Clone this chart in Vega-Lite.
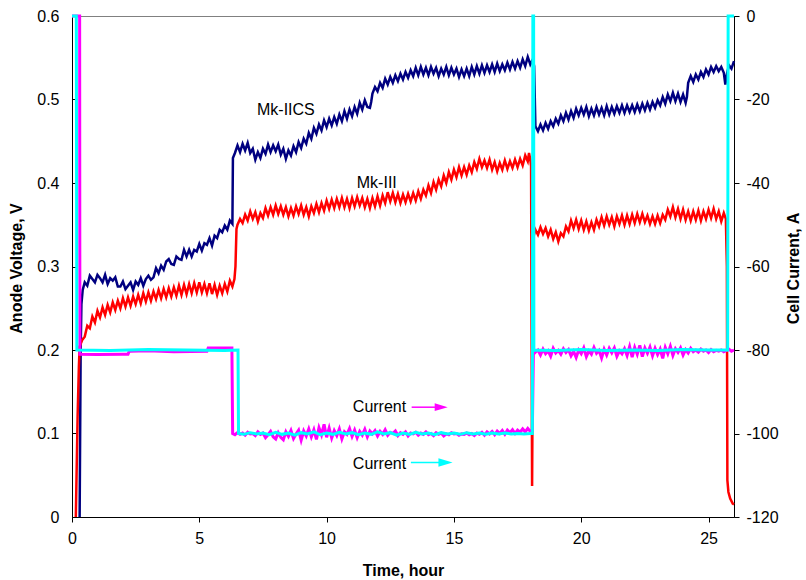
{
"$schema":"https://vega.github.io/schema/vega-lite/v6.json",
"width":662,"height":501,
"autosize":{"type":"none"},
"padding":{"left":72,"top":16,"right":72,"bottom":63},
"config":{
"font":"Liberation Sans",
"view":{"stroke":"#808080","strokeWidth":1},
"axis":{"grid":false,"domainColor":"#000","tickColor":"#000","labelColor":"#000","titleColor":"#000","labelFontSize":16,"titleFontSize":16,"titleFontWeight":"bold","labelFont":"Liberation Sans","titleFont":"Liberation Sans","domainWidth":1,"tickWidth":1}
},
"datasets":{
"navy":[{"t":0.3,"v":0},{"t":0.34,"v":0.2},{"t":0.37,"v":0.255},{"t":0.42,"v":0.272},
{"t":0.5,"v":0.281},{"t":0.6,"v":0.277},{"t":0.7,"v":0.289},{"t":0.8,"v":0.285},{"t":0.9,"v":0.281},{"t":1.0,"v":0.29},{"t":1.1,"v":0.286},{"t":1.2,"v":0.281},{"t":1.3,"v":0.29},{"t":1.4,"v":0.279},{"t":1.5,"v":0.286},{"t":1.6,"v":0.283},{"t":1.7,"v":0.287},{"t":1.8,"v":0.276},{"t":1.9,"v":0.276},{"t":2.0,"v":0.282},{"t":2.1,"v":0.273},{"t":2.2,"v":0.277},{"t":2.3,"v":0.281},{"t":2.4,"v":0.272},{"t":2.5,"v":0.282},{"t":2.6,"v":0.278},{"t":2.7,"v":0.286},{"t":2.8,"v":0.277},{"t":2.9,"v":0.285},{"t":3.0,"v":0.289},{"t":3.1,"v":0.284},{"t":3.2,"v":0.287},{"t":3.3,"v":0.298},{"t":3.4,"v":0.292},{"t":3.5,"v":0.301},{"t":3.6,"v":0.296},{"t":3.7,"v":0.306},{"t":3.8,"v":0.309},{"t":3.9,"v":0.303},{"t":4.0,"v":0.302},{"t":4.1,"v":0.312},{"t":4.2,"v":0.309},{"t":4.3,"v":0.308},{"t":4.4,"v":0.32},{"t":4.5,"v":0.312},{"t":4.6,"v":0.32},{"t":4.7,"v":0.312},{"t":4.8,"v":0.32},{"t":4.9,"v":0.318},{"t":5.0,"v":0.327},{"t":5.1,"v":0.319},{"t":5.2,"v":0.328},{"t":5.3,"v":0.326},{"t":5.4,"v":0.334},{"t":5.5,"v":0.325},{"t":5.6,"v":0.337},{"t":5.7,"v":0.334},{"t":5.8,"v":0.344},{"t":5.9,"v":0.341},{"t":6.0,"v":0.349},{"t":6.1,"v":0.344},{"t":6.2,"v":0.355},{"t":6.3,"v":0.351},{"t":6.32,"v":0.43},
{"t":6.4,"v":0.436},{"t":6.5,"v":0.445},{"t":6.6,"v":0.437},{"t":6.7,"v":0.447},{"t":6.8,"v":0.439},{"t":6.9,"v":0.448},{"t":7.0,"v":0.436},{"t":7.1,"v":0.441},{"t":7.2,"v":0.428},{"t":7.3,"v":0.437},{"t":7.4,"v":0.43},{"t":7.5,"v":0.441},{"t":7.6,"v":0.435},{"t":7.7,"v":0.446},{"t":7.8,"v":0.437},{"t":7.9,"v":0.445},{"t":8.0,"v":0.438},{"t":8.1,"v":0.446},{"t":8.2,"v":0.434},{"t":8.3,"v":0.441},{"t":8.4,"v":0.429},{"t":8.5,"v":0.439},{"t":8.6,"v":0.433},{"t":8.7,"v":0.444},{"t":8.8,"v":0.437},{"t":8.9,"v":0.449},{"t":9.0,"v":0.442},{"t":9.1,"v":0.453},{"t":9.2,"v":0.447},{"t":9.3,"v":0.46},{"t":9.4,"v":0.453},{"t":9.5,"v":0.466},{"t":9.6,"v":0.459},{"t":9.7,"v":0.47},{"t":9.8,"v":0.463},{"t":9.9,"v":0.475},{"t":10.0,"v":0.467},{"t":10.1,"v":0.477},{"t":10.2,"v":0.469},{"t":10.3,"v":0.479},{"t":10.4,"v":0.471},{"t":10.5,"v":0.482},{"t":10.6,"v":0.474},{"t":10.7,"v":0.486},{"t":10.8,"v":0.477},{"t":10.9,"v":0.488},{"t":11.0,"v":0.48},{"t":11.1,"v":0.491},{"t":11.2,"v":0.483},{"t":11.3,"v":0.496},{"t":11.4,"v":0.488},{"t":11.5,"v":0.499},{"t":11.6,"v":0.491},{"t":11.7,"v":0.49},{"t":11.75,"v":0.497},{"t":11.8,"v":0.507},{"t":11.9,"v":0.515},{"t":12.0,"v":0.51},{"t":12.1,"v":0.52},{"t":12.2,"v":0.514},{"t":12.3,"v":0.525},{"t":12.4,"v":0.518},{"t":12.5,"v":0.527},{"t":12.6,"v":0.52},{"t":12.7,"v":0.529},{"t":12.8,"v":0.522},{"t":12.9,"v":0.531},{"t":13.0,"v":0.524},{"t":13.1,"v":0.533},{"t":13.2,"v":0.526},{"t":13.3,"v":0.535},{"t":13.4,"v":0.528},{"t":13.5,"v":0.538},{"t":13.6,"v":0.529},{"t":13.7,"v":0.539},{"t":13.8,"v":0.53},{"t":13.9,"v":0.538},{"t":14.0,"v":0.529},{"t":14.1,"v":0.539},{"t":14.2,"v":0.531},{"t":14.3,"v":0.538},{"t":14.4,"v":0.528},{"t":14.5,"v":0.537},{"t":14.6,"v":0.53},{"t":14.7,"v":0.539},{"t":14.8,"v":0.529},{"t":14.9,"v":0.538},{"t":15.0,"v":0.53},{"t":15.1,"v":0.537},{"t":15.2,"v":0.527},{"t":15.3,"v":0.536},{"t":15.4,"v":0.528},{"t":15.5,"v":0.537},{"t":15.6,"v":0.528},{"t":15.7,"v":0.539},{"t":15.8,"v":0.53},{"t":15.9,"v":0.54},{"t":16.0,"v":0.531},{"t":16.1,"v":0.541},{"t":16.2,"v":0.532},{"t":16.3,"v":0.541},{"t":16.4,"v":0.533},{"t":16.5,"v":0.542},{"t":16.6,"v":0.533},{"t":16.7,"v":0.543},{"t":16.8,"v":0.534},{"t":16.9,"v":0.542},{"t":17.0,"v":0.535},{"t":17.1,"v":0.544},{"t":17.2,"v":0.536},{"t":17.3,"v":0.545},{"t":17.4,"v":0.537},{"t":17.5,"v":0.546},{"t":17.6,"v":0.538},{"t":17.7,"v":0.548},{"t":17.8,"v":0.54},{"t":17.9,"v":0.551},{"t":18.0,"v":0.542},{"t":18.1,"v":0.548},{"t":18.15,"v":0.54},{"t":18.2,"v":0.468},
{"t":18.3,"v":0.462},{"t":18.4,"v":0.47},{"t":18.5,"v":0.463},{"t":18.6,"v":0.472},{"t":18.7,"v":0.465},{"t":18.8,"v":0.474},{"t":18.9,"v":0.468},{"t":19.0,"v":0.477},{"t":19.1,"v":0.471},{"t":19.2,"v":0.481},{"t":19.3,"v":0.474},{"t":19.4,"v":0.484},{"t":19.5,"v":0.476},{"t":19.6,"v":0.486},{"t":19.7,"v":0.478},{"t":19.8,"v":0.489},{"t":19.9,"v":0.481},{"t":20.0,"v":0.49},{"t":20.1,"v":0.482},{"t":20.2,"v":0.491},{"t":20.3,"v":0.48},{"t":20.4,"v":0.489},{"t":20.5,"v":0.481},{"t":20.6,"v":0.491},{"t":20.7,"v":0.482},{"t":20.8,"v":0.49},{"t":20.9,"v":0.481},{"t":21.0,"v":0.492},{"t":21.1,"v":0.482},{"t":21.2,"v":0.491},{"t":21.3,"v":0.483},{"t":21.4,"v":0.492},{"t":21.5,"v":0.484},{"t":21.6,"v":0.493},{"t":21.7,"v":0.484},{"t":21.8,"v":0.493},{"t":21.9,"v":0.485},{"t":22.0,"v":0.493},{"t":22.1,"v":0.485},{"t":22.2,"v":0.494},{"t":22.3,"v":0.486},{"t":22.4,"v":0.495},{"t":22.5,"v":0.487},{"t":22.6,"v":0.496},{"t":22.7,"v":0.488},{"t":22.8,"v":0.497},{"t":22.9,"v":0.49},{"t":23.0,"v":0.499},{"t":23.1,"v":0.493},{"t":23.2,"v":0.503},{"t":23.3,"v":0.495},{"t":23.4,"v":0.506},{"t":23.5,"v":0.498},{"t":23.6,"v":0.508},{"t":23.7,"v":0.498},{"t":23.8,"v":0.507},{"t":23.9,"v":0.497},{"t":24.0,"v":0.506},{"t":24.1,"v":0.496},{"t":24.15,"v":0.503},{"t":24.2,"v":0.52},{"t":24.3,"v":0.528},{"t":24.4,"v":0.521},{"t":24.5,"v":0.53},{"t":24.6,"v":0.524},{"t":24.7,"v":0.533},{"t":24.8,"v":0.527},{"t":24.9,"v":0.536},{"t":25.0,"v":0.53},{"t":25.1,"v":0.539},{"t":25.2,"v":0.533},{"t":25.3,"v":0.54},{"t":25.4,"v":0.534},{"t":25.5,"v":0.539},{"t":25.6,"v":0.532},{"t":25.66,"v":0.518},{"t":25.72,"v":0.53},{"t":25.8,"v":0.541},{"t":25.9,"v":0.537},{"t":26.0,"v":0.546}],
"red":[{"t":0.15,"v":0},{"t":0.22,"v":0.12},{"t":0.27,"v":0.18},{"t":0.3,"v":0.204},{"t":0.4,"v":0.212},
{"t":0.5,"v":0.216},{"t":0.6,"v":0.229},{"t":0.7,"v":0.226},{"t":0.8,"v":0.24},{"t":0.9,"v":0.233},{"t":1.0,"v":0.247},{"t":1.1,"v":0.239},{"t":1.2,"v":0.251},{"t":1.3,"v":0.242},{"t":1.4,"v":0.254},{"t":1.5,"v":0.245},{"t":1.6,"v":0.257},{"t":1.7,"v":0.248},{"t":1.8,"v":0.259},{"t":1.9,"v":0.25},{"t":2.0,"v":0.262},{"t":2.1,"v":0.252},{"t":2.2,"v":0.263},{"t":2.3,"v":0.253},{"t":2.4,"v":0.264},{"t":2.5,"v":0.255},{"t":2.6,"v":0.266},{"t":2.7,"v":0.256},{"t":2.8,"v":0.268},{"t":2.9,"v":0.258},{"t":3.0,"v":0.269},{"t":3.1,"v":0.259},{"t":3.2,"v":0.27},{"t":3.3,"v":0.261},{"t":3.4,"v":0.272},{"t":3.5,"v":0.262},{"t":3.6,"v":0.273},{"t":3.7,"v":0.263},{"t":3.8,"v":0.274},{"t":3.9,"v":0.264},{"t":4.0,"v":0.275},{"t":4.1,"v":0.265},{"t":4.2,"v":0.277},{"t":4.3,"v":0.266},{"t":4.4,"v":0.278},{"t":4.5,"v":0.267},{"t":4.6,"v":0.279},{"t":4.7,"v":0.268},{"t":4.8,"v":0.28},{"t":4.9,"v":0.269},{"t":5.0,"v":0.281},{"t":5.1,"v":0.269},{"t":5.2,"v":0.279},{"t":5.3,"v":0.268},{"t":5.4,"v":0.28},{"t":5.5,"v":0.267},{"t":5.6,"v":0.278},{"t":5.7,"v":0.266},{"t":5.8,"v":0.277},{"t":5.9,"v":0.268},{"t":6.0,"v":0.279},{"t":6.1,"v":0.27},{"t":6.2,"v":0.283},{"t":6.3,"v":0.276},{"t":6.38,"v":0.285},{"t":6.42,"v":0.3},{"t":6.46,"v":0.345},
{"t":6.5,"v":0.35},{"t":6.6,"v":0.357},{"t":6.7,"v":0.352},{"t":6.8,"v":0.362},{"t":6.9,"v":0.355},{"t":7.0,"v":0.366},{"t":7.1,"v":0.357},{"t":7.2,"v":0.365},{"t":7.3,"v":0.354},{"t":7.4,"v":0.364},{"t":7.5,"v":0.358},{"t":7.6,"v":0.37},{"t":7.7,"v":0.361},{"t":7.8,"v":0.371},{"t":7.9,"v":0.362},{"t":8.0,"v":0.373},{"t":8.1,"v":0.363},{"t":8.2,"v":0.372},{"t":8.3,"v":0.362},{"t":8.4,"v":0.371},{"t":8.5,"v":0.36},{"t":8.6,"v":0.37},{"t":8.7,"v":0.361},{"t":8.8,"v":0.372},{"t":8.9,"v":0.363},{"t":9.0,"v":0.373},{"t":9.1,"v":0.362},{"t":9.2,"v":0.371},{"t":9.3,"v":0.36},{"t":9.4,"v":0.372},{"t":9.5,"v":0.364},{"t":9.6,"v":0.375},{"t":9.7,"v":0.365},{"t":9.8,"v":0.376},{"t":9.9,"v":0.367},{"t":10.0,"v":0.379},{"t":10.1,"v":0.369},{"t":10.2,"v":0.38},{"t":10.3,"v":0.37},{"t":10.4,"v":0.381},{"t":10.5,"v":0.371},{"t":10.6,"v":0.382},{"t":10.7,"v":0.371},{"t":10.8,"v":0.381},{"t":10.9,"v":0.37},{"t":11.0,"v":0.382},{"t":11.1,"v":0.372},{"t":11.2,"v":0.383},{"t":11.3,"v":0.373},{"t":11.4,"v":0.382},{"t":11.5,"v":0.371},{"t":11.6,"v":0.381},{"t":11.7,"v":0.37},{"t":11.8,"v":0.382},{"t":11.9,"v":0.372},{"t":12.0,"v":0.384},{"t":12.1,"v":0.373},{"t":12.2,"v":0.385},{"t":12.3,"v":0.376},{"t":12.4,"v":0.389},{"t":12.5,"v":0.378},{"t":12.6,"v":0.388},{"t":12.7,"v":0.377},{"t":12.8,"v":0.387},{"t":12.9,"v":0.376},{"t":13.0,"v":0.386},{"t":13.1,"v":0.377},{"t":13.2,"v":0.387},{"t":13.3,"v":0.378},{"t":13.4,"v":0.388},{"t":13.5,"v":0.379},{"t":13.6,"v":0.39},{"t":13.7,"v":0.381},{"t":13.8,"v":0.392},{"t":13.9,"v":0.385},{"t":14.0,"v":0.397},{"t":14.1,"v":0.388},{"t":14.2,"v":0.401},{"t":14.3,"v":0.392},{"t":14.4,"v":0.404},{"t":14.5,"v":0.396},{"t":14.6,"v":0.409},{"t":14.7,"v":0.4},{"t":14.8,"v":0.413},{"t":14.9,"v":0.404},{"t":15.0,"v":0.416},{"t":15.1,"v":0.407},{"t":15.2,"v":0.419},{"t":15.3,"v":0.409},{"t":15.4,"v":0.419},{"t":15.5,"v":0.41},{"t":15.6,"v":0.421},{"t":15.7,"v":0.413},{"t":15.8,"v":0.425},{"t":15.9,"v":0.417},{"t":16.0,"v":0.429},{"t":16.1,"v":0.419},{"t":16.2,"v":0.427},{"t":16.3,"v":0.418},{"t":16.4,"v":0.428},{"t":16.5,"v":0.416},{"t":16.6,"v":0.425},{"t":16.7,"v":0.414},{"t":16.8,"v":0.424},{"t":16.9,"v":0.416},{"t":17.0,"v":0.427},{"t":17.1,"v":0.417},{"t":17.2,"v":0.426},{"t":17.3,"v":0.418},{"t":17.4,"v":0.428},{"t":17.5,"v":0.419},{"t":17.6,"v":0.429},{"t":17.7,"v":0.421},{"t":17.8,"v":0.433},{"t":17.9,"v":0.426},{"t":17.95,"v":0.436},{"t":18.0,"v":0.428},{"t":18.03,"v":0.42},{"t":18.07,"v":0.037},{"t":18.1,"v":0.2},{"t":18.12,"v":0.335},
{"t":18.2,"v":0.344},{"t":18.3,"v":0.338},{"t":18.4,"v":0.347},{"t":18.5,"v":0.339},{"t":18.6,"v":0.346},{"t":18.7,"v":0.336},{"t":18.8,"v":0.344},{"t":18.9,"v":0.333},{"t":19.0,"v":0.341},{"t":19.1,"v":0.33},{"t":19.2,"v":0.34},{"t":19.3,"v":0.336},{"t":19.4,"v":0.348},{"t":19.5,"v":0.342},{"t":19.6,"v":0.355},{"t":19.7,"v":0.346},{"t":19.8,"v":0.356},{"t":19.9,"v":0.345},{"t":20.0,"v":0.355},{"t":20.1,"v":0.344},{"t":20.2,"v":0.354},{"t":20.3,"v":0.343},{"t":20.4,"v":0.353},{"t":20.5,"v":0.344},{"t":20.6,"v":0.356},{"t":20.7,"v":0.348},{"t":20.8,"v":0.359},{"t":20.9,"v":0.349},{"t":21.0,"v":0.36},{"t":21.1,"v":0.35},{"t":21.2,"v":0.359},{"t":21.3,"v":0.348},{"t":21.4,"v":0.36},{"t":21.5,"v":0.351},{"t":21.6,"v":0.361},{"t":21.7,"v":0.35},{"t":21.8,"v":0.361},{"t":21.9,"v":0.351},{"t":22.0,"v":0.362},{"t":22.1,"v":0.352},{"t":22.2,"v":0.363},{"t":22.3,"v":0.353},{"t":22.4,"v":0.363},{"t":22.5,"v":0.353},{"t":22.6,"v":0.361},{"t":22.7,"v":0.351},{"t":22.8,"v":0.36},{"t":22.9,"v":0.351},{"t":23.0,"v":0.361},{"t":23.1,"v":0.352},{"t":23.2,"v":0.362},{"t":23.3,"v":0.356},{"t":23.4,"v":0.368},{"t":23.5,"v":0.36},{"t":23.6,"v":0.371},{"t":23.7,"v":0.359},{"t":23.8,"v":0.369},{"t":23.9,"v":0.357},{"t":24.0,"v":0.368},{"t":24.1,"v":0.356},{"t":24.2,"v":0.366},{"t":24.3,"v":0.355},{"t":24.4,"v":0.366},{"t":24.5,"v":0.356},{"t":24.6,"v":0.367},{"t":24.7,"v":0.355},{"t":24.8,"v":0.366},{"t":24.9,"v":0.357},{"t":25.0,"v":0.368},{"t":25.1,"v":0.358},{"t":25.2,"v":0.369},{"t":25.3,"v":0.357},{"t":25.4,"v":0.366},{"t":25.5,"v":0.354},{"t":25.6,"v":0.364},{"t":25.68,"v":0.357},{"t":25.72,"v":0.3},{"t":25.74,"v":0.044},{"t":25.78,"v":0.03},{"t":25.85,"v":0.022},{"t":25.95,"v":0.016},{"t":26.0,"v":0.015}],
"mag":[{"t":0,"i":0},{"t":0.3,"i":0},{"t":0.31,"i":-81},{"t":1.0,"i":-81.1},{"t":2.0,"i":-81},{"t":2.2,"i":-81},{"t":2.25,"i":-80.3},{"t":3.0,"i":-80.2},{"t":4.0,"i":-80.4},{"t":5.3,"i":-80.3},{"t":5.35,"i":-79.5},{"t":6.28,"i":-79.5},{"t":6.31,"i":-100},
{"t":6.4,"i":-100.3},{"t":6.5,"i":-99.8},{"t":6.6,"i":-100.2},{"t":6.7,"i":-99.9},{"t":6.8,"i":-100.4},{"t":6.9,"i":-99.7},{"t":7.0,"i":-100.1},{"t":7.1,"i":-100},{"t":7.2,"i":-100.5},{"t":7.3,"i":-99.6},{"t":7.4,"i":-100.2},{"t":7.5,"i":-99.9},{"t":7.6,"i":-101},{"t":7.7,"i":-100.3},{"t":7.8,"i":-99.5},{"t":7.9,"i":-100.8},{"t":8.0,"i":-101.3},{"t":8.1,"i":-99.8},{"t":8.2,"i":-100.9},{"t":8.3,"i":-101.5},{"t":8.4,"i":-99.6},{"t":8.5,"i":-100.7},{"t":8.6,"i":-99.3},{"t":8.7,"i":-101.2},{"t":8.8,"i":-100.1},{"t":8.9,"i":-99.2},{"t":9.0,"i":-101.6},{"t":9.1,"i":-99.4},{"t":9.2,"i":-100.6},{"t":9.3,"i":-98.9},{"t":9.4,"i":-100.8},{"t":9.5,"i":-99.1},{"t":9.6,"i":-101.4},{"t":9.7,"i":-98.6},{"t":9.8,"i":-100.3},{"t":9.9,"i":-97.8},{"t":10.0,"i":-100.9},{"t":10.1,"i":-98.7},{"t":10.2,"i":-101.1},{"t":10.3,"i":-99.3},{"t":10.4,"i":-100.5},{"t":10.5,"i":-98.9},{"t":10.6,"i":-101.3},{"t":10.7,"i":-99.6},{"t":10.8,"i":-100.2},{"t":10.9,"i":-98.8},{"t":11.0,"i":-100.7},{"t":11.1,"i":-99.2},{"t":11.2,"i":-101},{"t":11.3,"i":-99.5},{"t":11.4,"i":-100.4},{"t":11.5,"i":-99},{"t":11.6,"i":-100.8},{"t":11.7,"i":-99.4},{"t":11.8,"i":-100.1},{"t":11.9,"i":-99.3},{"t":12.0,"i":-100.6},{"t":12.1,"i":-99.5},{"t":12.2,"i":-100.2},{"t":12.3,"i":-99.1},{"t":12.4,"i":-100.4},{"t":12.5,"i":-99.7},{"t":12.6,"i":-100},{"t":12.7,"i":-99.4},{"t":12.8,"i":-100.5},{"t":12.9,"i":-99.8},{"t":13.0,"i":-100.2},{"t":13.1,"i":-99.6},{"t":13.2,"i":-100.6},{"t":13.3,"i":-99.9},{"t":13.4,"i":-100.1},{"t":13.5,"i":-99.7},{"t":13.6,"i":-100.4},{"t":13.7,"i":-99.9},{"t":13.8,"i":-100.2},{"t":13.9,"i":-99.6},{"t":14.0,"i":-100.3},{"t":14.1,"i":-100},{"t":14.2,"i":-100.5},{"t":14.3,"i":-99.8},{"t":14.4,"i":-100.2},{"t":14.5,"i":-99.9},{"t":14.6,"i":-100.6},{"t":14.7,"i":-100.1},{"t":14.8,"i":-100.3},{"t":14.9,"i":-99.8},{"t":15.0,"i":-100.1},{"t":15.1,"i":-100},{"t":15.2,"i":-100.4},{"t":15.3,"i":-100.1},{"t":15.4,"i":-100.2},{"t":15.5,"i":-99.9},{"t":15.6,"i":-100.3},{"t":15.7,"i":-100},{"t":15.8,"i":-100.5},{"t":15.9,"i":-99.9},{"t":16.0,"i":-100.2},{"t":16.1,"i":-99.7},{"t":16.2,"i":-100.4},{"t":16.3,"i":-99.6},{"t":16.4,"i":-100.1},{"t":16.5,"i":-99.5},{"t":16.6,"i":-100.3},{"t":16.7,"i":-99.4},{"t":16.8,"i":-100},{"t":16.9,"i":-99.3},{"t":17.0,"i":-100.2},{"t":17.1,"i":-99.2},{"t":17.2,"i":-99.8},{"t":17.3,"i":-99.1},{"t":17.4,"i":-100},{"t":17.5,"i":-99.2},{"t":17.6,"i":-99.7},{"t":17.7,"i":-98.9},{"t":17.8,"i":-99.6},{"t":17.9,"i":-98.8},{"t":18.0,"i":-99.5},{"t":18.08,"i":-99.2},{"t":18.12,"i":-81},
{"t":18.2,"i":-80.5},{"t":18.3,"i":-80},{"t":18.4,"i":-81.2},{"t":18.5,"i":-79.8},{"t":18.6,"i":-80.9},{"t":18.7,"i":-80.2},{"t":18.8,"i":-81.5},{"t":18.9,"i":-79.6},{"t":19.0,"i":-80.7},{"t":19.1,"i":-80.1},{"t":19.2,"i":-81},{"t":19.3,"i":-79.7},{"t":19.4,"i":-80.6},{"t":19.5,"i":-79.9},{"t":19.6,"i":-81.4},{"t":19.7,"i":-80.3},{"t":19.8,"i":-81.8},{"t":19.9,"i":-80},{"t":20.0,"i":-80.9},{"t":20.1,"i":-79.5},{"t":20.2,"i":-81.6},{"t":20.3,"i":-80.2},{"t":20.4,"i":-81},{"t":20.5,"i":-79.4},{"t":20.6,"i":-80.8},{"t":20.7,"i":-80.1},{"t":20.8,"i":-81.9},{"t":20.9,"i":-79.8},{"t":21.0,"i":-81.2},{"t":21.1,"i":-79.6},{"t":21.2,"i":-80.7},{"t":21.3,"i":-79.5},{"t":21.4,"i":-81.5},{"t":21.5,"i":-80.2},{"t":21.6,"i":-80.9},{"t":21.7,"i":-79.7},{"t":21.8,"i":-81.3},{"t":21.9,"i":-79.2},{"t":22.0,"i":-81.7},{"t":22.1,"i":-79.4},{"t":22.2,"i":-81},{"t":22.3,"i":-78.9},{"t":22.4,"i":-81.6},{"t":22.5,"i":-79.5},{"t":22.6,"i":-80.8},{"t":22.7,"i":-79.3},{"t":22.8,"i":-81.4},{"t":22.9,"i":-79.6},{"t":23.0,"i":-81.1},{"t":23.1,"i":-79.8},{"t":23.2,"i":-82},{"t":23.3,"i":-79.4},{"t":23.4,"i":-80.9},{"t":23.5,"i":-79.1},{"t":23.6,"i":-81.3},{"t":23.7,"i":-79.7},{"t":23.8,"i":-80.6},{"t":23.9,"i":-79.5},{"t":24.0,"i":-81.2},{"t":24.1,"i":-79.9},{"t":24.2,"i":-80.7},{"t":24.3,"i":-79.6},{"t":24.4,"i":-80.4},{"t":24.5,"i":-80},{"t":24.6,"i":-80.5},{"t":24.7,"i":-79.8},{"t":24.8,"i":-80.3},{"t":24.9,"i":-80},{"t":25.0,"i":-80.6},{"t":25.1,"i":-79.9},{"t":25.2,"i":-80.4},{"t":25.3,"i":-80.1},{"t":25.4,"i":-80.3},{"t":25.5,"i":-80},{"t":25.6,"i":-80.4},{"t":25.7,"i":-80.1},{"t":25.8,"i":-79.8},{"t":25.9,"i":-80.3},{"t":26.0,"i":-80}],
"cyan":[{"t":0,"i":0},{"t":0.17,"i":0},{"t":0.19,"i":-80},{"t":1.5,"i":-80.1},{"t":3.0,"i":-79.9},{"t":4.5,"i":-80},{"t":6.0,"i":-80.1},{"t":6.52,"i":-80},{"t":6.54,"i":-100},{"t":6.75,"i":-100.2},{"t":7.0,"i":-99.8},{"t":7.25,"i":-100.1},{"t":7.5,"i":-99.9},{"t":7.75,"i":-100.3},{"t":8.0,"i":-99.7},{"t":8.25,"i":-100.2},{"t":8.5,"i":-99.9},{"t":8.75,"i":-100.4},{"t":9.0,"i":-99.8},{"t":9.25,"i":-100.1},{"t":9.5,"i":-99.6},{"t":9.75,"i":-100.3},{"t":10.0,"i":-99.9},{"t":10.25,"i":-100.2},{"t":10.5,"i":-99.7},{"t":10.75,"i":-100.1},{"t":11.0,"i":-99.8},{"t":11.25,"i":-100.3},{"t":11.5,"i":-99.9},{"t":11.75,"i":-100.2},{"t":12.0,"i":-99.6},{"t":12.25,"i":-100.1},{"t":12.5,"i":-99.8},{"t":12.75,"i":-100.4},{"t":13.0,"i":-99.9},{"t":13.25,"i":-100.2},{"t":13.5,"i":-99.7},{"t":13.75,"i":-100.1},{"t":14.0,"i":-99.9},{"t":14.25,"i":-100.3},{"t":14.5,"i":-99.8},{"t":14.75,"i":-100.1},{"t":15.0,"i":-99.9},{"t":15.25,"i":-100.2},{"t":15.5,"i":-99.8},{"t":15.75,"i":-100.1},{"t":16.0,"i":-99.9},{"t":16.25,"i":-100.2},{"t":16.5,"i":-99.9},{"t":16.75,"i":-100.1},{"t":17.0,"i":-99.9},{"t":17.25,"i":-100.1},{"t":17.5,"i":-100},{"t":17.75,"i":-100.1},{"t":18.0,"i":-100},{"t":18.08,"i":-100},{"t":18.1,"i":0},{"t":18.13,"i":0},{"t":18.14,"i":-80},{"t":19.0,"i":-80.1},{"t":20.0,"i":-79.9},{"t":21.0,"i":-80.1},{"t":22.0,"i":-80},{"t":23.0,"i":-80.1},{"t":24.0,"i":-79.9},{"t":25.0,"i":-80},{"t":25.75,"i":-80},{"t":25.77,"i":0},{"t":26.0,"i":0}],
"vlabels":[{"t":8.4,"v":0.488,"label":"Mk-IICS"},{"t":11.97,"v":0.4,"label":"Mk-III"}],
"ilabels":[{"t":11.03,"i":-93.6,"label":"Current"},{"t":11.03,"i":-107.2,"label":"Current"}],
"arrows":[{"series":"mag","t":13.34,"t2":14.4,"i":-93.7,"head":14.5},{"series":"cyan","t":13.31,"t2":14.55,"i":-106.97,"head":14.67}]
},
"encoding":{"x":{"field":"t","type":"quantitative","scale":{"domain":[0,26],"nice":false,"zero":false},
"axis":{"title":"Time, hour","values":[0,5,10,15,20,25],"tickSize":5,"labelPadding":8,"titleY":58,"titleBaseline":"alphabetic","labelFlush":false,"labelExpr":"'' + datum.value"}}},
"layer":[
{"encoding":{"y":{"field":"v","type":"quantitative","scale":{"domain":[0,0.6],"nice":false,"zero":false},
"axis":{"title":"Anode Voltage, V","orient":"left","values":[0,0.1,0.2,0.3,0.4,0.5,0.6],"tickSize":-5,"labelPadding":18,"titleX":-48,"titleY":252,"titleAngle":-90,"titleAlign":"center","titleBaseline":"bottom","labelExpr":"'' + datum.value"}}},
"layer":[
{"data":{"name":"navy"},"mark":{"type":"line","color":"#000080","strokeWidth":2.5}},
{"data":{"name":"red"},"mark":{"type":"line","color":"#FF0000","strokeWidth":2.5}},
{"data":{"name":"vlabels"},"mark":{"type":"text","fontSize":16,"color":"#000","align":"center","baseline":"middle","font":"Liberation Sans"},"encoding":{"text":{"field":"label"}}}
]},
{"encoding":{"y":{"field":"i","type":"quantitative","scale":{"domain":[-120,0],"nice":false,"zero":false},
"axis":{"title":"Cell Current, A","orient":"right","values":[-120,-100,-80,-60,-40,-20,0],"tickSize":5,"labelPadding":7,"titleX":67,"titleY":252,"titleAngle":-90,"titleAlign":"center","titleBaseline":"bottom","labelExpr":"'' + datum.value"}}},
"layer":[
{"data":{"name":"mag"},"mark":{"type":"line","color":"#FF00FF","strokeWidth":3}},
{"data":{"name":"cyan"},"mark":{"type":"line","color":"#00FFFF","strokeWidth":3}},
{"data":{"name":"ilabels"},"mark":{"type":"text","fontSize":16,"color":"#000","align":"left","baseline":"middle","font":"Liberation Sans"},"encoding":{"text":{"field":"label"}}},
{"data":{"name":"arrows"},"transform":[{"filter":"datum.series == 'mag'"}],"mark":{"type":"rule","color":"#FF00FF","strokeWidth":1.5},"encoding":{"x2":{"field":"t2"}}},
{"data":{"name":"arrows"},"transform":[{"filter":"datum.series == 'cyan'"}],"mark":{"type":"rule","color":"#00FFFF","strokeWidth":1.5},"encoding":{"x2":{"field":"t2"}}},
{"data":{"name":"arrows"},"transform":[{"filter":"datum.series == 'mag'"}],"mark":{"type":"point","shape":"M-1,-0.6L1,0L-1,0.6Z","filled":true,"color":"#FF00FF","size":169,"opacity":1},"encoding":{"x":{"field":"head","type":"quantitative"}}},
{"data":{"name":"arrows"},"transform":[{"filter":"datum.series == 'cyan'"}],"mark":{"type":"point","shape":"M-1,-0.6L1,0L-1,0.6Z","filled":true,"color":"#00FFFF","size":200,"opacity":1},"encoding":{"x":{"field":"head","type":"quantitative"}}}
]}
],
"resolve":{"scale":{"y":"independent"},"axis":{"y":"independent"}}
}
